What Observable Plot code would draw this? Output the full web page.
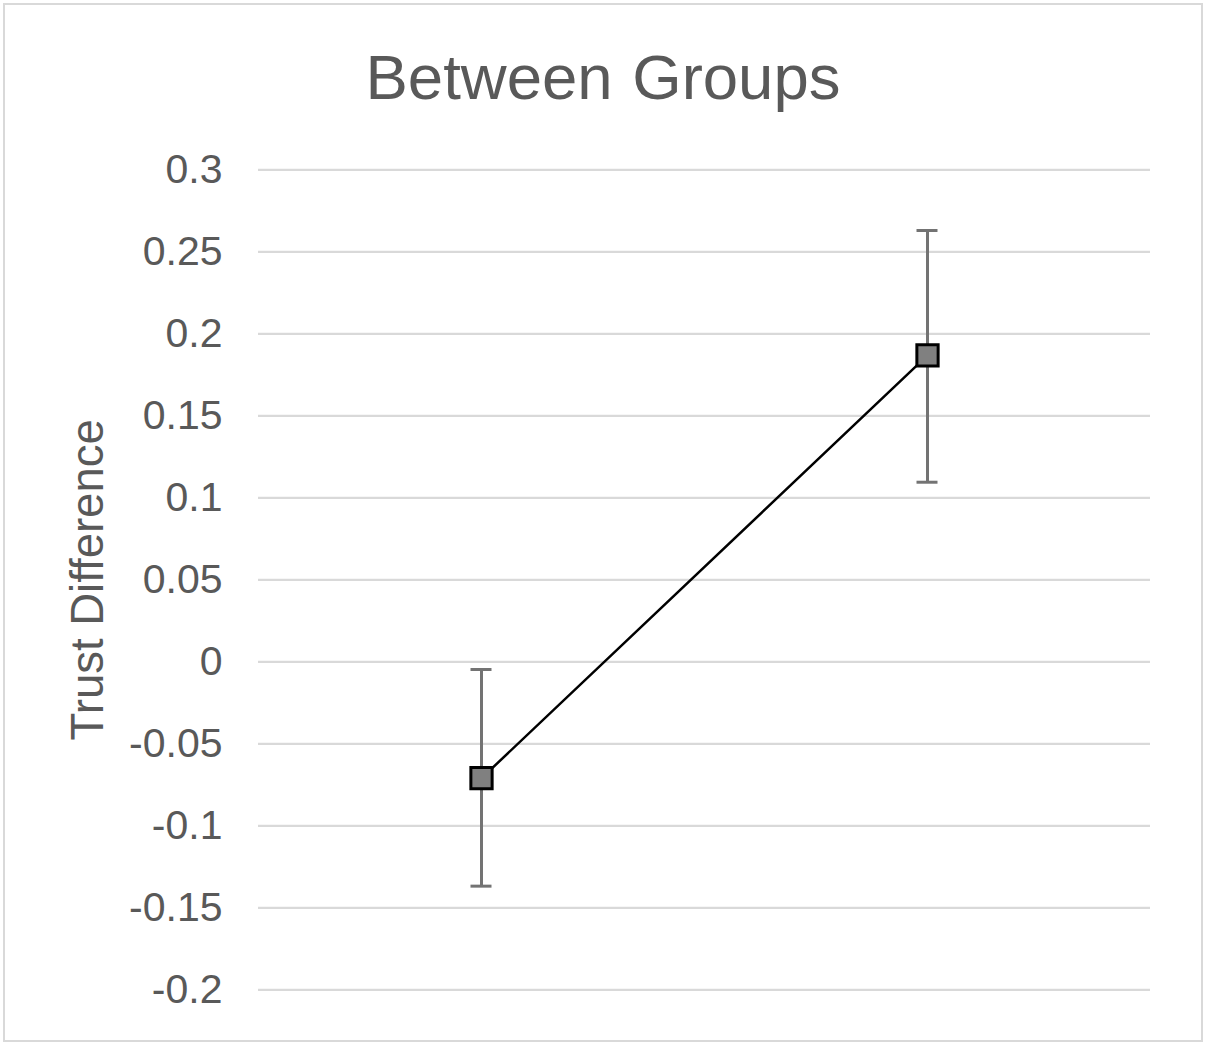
<!DOCTYPE html>
<html>
<head>
<meta charset="utf-8">
<script src="https://cdn.jsdelivr.net/npm/d3@7"></script>
<script src="https://cdn.jsdelivr.net/npm/@observablehq/plot@0.6"></script>
<style>
  html, body { margin: 0; padding: 0; background: #fff; }
  #wrap { position: relative; width: 1210px; height: 1045px; font-family: "Liberation Sans", Arial, sans-serif; }
  #frame { position: absolute; left: 3px; top: 3px; width: 1200px; height: 1039px; box-sizing: border-box; border: 2px solid #d9d9d9; }
  #title { position: absolute; left: 0; width: 1206px; top: 46px; text-align: center; font-size: 63.5px; line-height: 63.5px; color: #595959; word-spacing: 2px; }
  #chart { position: absolute; left: 0; top: 130px; }
</style>
</head>
<body>
<div id="wrap">
  <div id="frame"></div>
  <div id="title">Between Groups</div>
  <div id="chart"></div>
</div>
<script>
const groups = ["Group 1", "Group 2"];
const means = [-0.071, 0.1868];
const lower = [-0.1368, 0.1095];
const upper = [-0.0047, 0.2630];
const yTicks = [-0.2, -0.15, -0.1, -0.05, 0, 0.05, 0.1, 0.15, 0.2, 0.25, 0.3];
const yLabel = "Trust Difference";

const data = groups.map((g, i) => ({group: g, mean: means[i], lo: lower[i], hi: upper[i]}));

const chart = Plot.plot({
  width: 1210,
  height: 905,
  marginTop: 39.3,
  marginBottom: 45.7,
  marginLeft: 258,
  marginRight: 60,
  style: {fontFamily: "'Liberation Sans', Arial, sans-serif", color: "#595959", background: "transparent", overflow: "visible"},
  x: {type: "band", domain: groups, padding: 0, axis: null},
  y: {domain: [-0.2, 0.3], axis: null},
  marks: [
    Plot.ruleY(yTicks, {y: d => d, stroke: "#d9d9d9", strokeWidth: 2.2}),
    Plot.axisY({ticks: yTicks, tickSize: 0, tickPadding: 36, fontSize: 41, tickFormat: d => String(d), fill: "#595959"}),
    Plot.text([yLabel], {frameAnchor: "left", rotate: -90, dx: -170, fontSize: 45.5, fill: "#595959", textAnchor: "middle"}),
    Plot.ruleX(data, {x: "group", y1: "lo", y2: "hi", stroke: "#737373", strokeWidth: 3}),
    Plot.tickY(data, {x: "group", y: "lo", stroke: "#737373", strokeWidth: 3, insetLeft: 212.5, insetRight: 212.5}),
    Plot.tickY(data, {x: "group", y: "hi", stroke: "#737373", strokeWidth: 3, insetLeft: 212.5, insetRight: 212.5}),
    Plot.line(data, {x: "group", y: "mean", stroke: "#000", strokeWidth: 2.5}),
    Plot.dot(data, {x: "group", y: "mean", symbol: "square", r: 12, fill: "#808080", stroke: "#000", strokeWidth: 3})
  ]
});
document.getElementById("chart").appendChild(chart);
</script>
</body>
</html>
